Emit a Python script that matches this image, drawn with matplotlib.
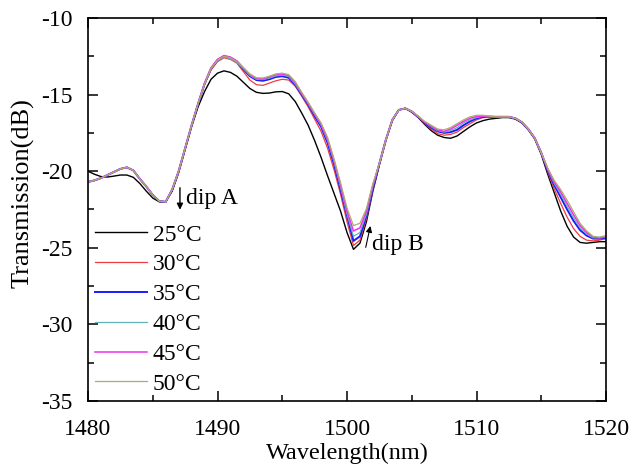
import matplotlib
matplotlib.use("Agg")
import matplotlib.pyplot as plt
from matplotlib.ticker import MultipleLocator

plt.rcParams['font.family'] = ['Liberation Serif', 'DejaVu Serif']
plt.rcParams['axes.unicode_minus'] = False

# wavelength samples (nm), shared by all curves
wl = [1480.0, 1480.5, 1481.0, 1481.5, 1482.0, 1482.5, 1483.0, 1483.5, 1484.0, 1484.5,
      1485.0, 1485.5, 1486.0, 1486.5, 1487.0, 1487.5, 1488.0, 1488.5, 1489.0, 1489.5,
      1490.0, 1490.5, 1491.0, 1491.5, 1492.0, 1492.5, 1493.0, 1493.5, 1494.0, 1494.5,
      1495.0, 1495.5, 1496.0, 1496.5, 1497.0, 1497.5, 1498.0, 1498.5, 1499.0, 1499.5,
      1500.0, 1500.5, 1501.0, 1501.5, 1502.0, 1502.5, 1503.0, 1503.5, 1504.0, 1504.5,
      1505.0, 1505.5, 1506.0, 1506.5, 1507.0, 1507.5, 1508.0, 1508.5, 1509.0, 1509.5,
      1510.0, 1510.5, 1511.0, 1511.5, 1512.0, 1512.5, 1513.0, 1513.5, 1514.0, 1514.5,
      1515.0, 1515.5, 1516.0, 1516.5, 1517.0, 1517.5, 1518.0, 1518.5, 1519.0, 1519.5,
      1520.0]

# transmission (dB) at each temperature
t25 = [-20.0, -20.2, -20.35, -20.38, -20.32, -20.25, -20.25, -20.4, -20.8, -21.3,
       -21.75, -22.0, -22.0, -21.3, -20.1, -18.6, -17.1, -15.8, -14.8, -14.0,
       -13.6, -13.45, -13.55, -13.8, -14.2, -14.6, -14.85, -14.92, -14.9, -14.82,
       -14.8, -14.95, -15.45, -16.2, -17.0, -18.0, -19.1, -20.3, -21.45, -22.6,
       -24.0, -25.1, -24.7, -23.3, -21.3, -19.6, -18.0, -16.7, -16.0, -15.9,
       -16.15, -16.5, -16.95, -17.35, -17.65, -17.8, -17.85, -17.7, -17.4, -17.1,
       -16.85, -16.7, -16.6, -16.55, -16.5, -16.5, -16.6, -16.85, -17.3, -17.9,
       -18.9, -20.2, -21.4, -22.6, -23.6, -24.3, -24.65, -24.7, -24.65, -24.6,
       -24.6]
t30 = [-20.7, -20.6, -20.45, -20.25, -20.05, -19.85, -19.75, -19.95, -20.5, -21.0,
       -21.55, -21.95, -22.0, -21.2, -20.0, -18.5, -17.0, -15.6, -14.35, -13.4,
       -12.85, -12.6, -12.7, -12.95, -13.5, -14.05, -14.35, -14.4, -14.25, -14.1,
       -14.0, -14.05, -14.45, -15.1, -15.8, -16.6, -17.4, -18.5, -19.9, -21.5,
       -23.3, -24.85, -24.5, -23.1, -21.2, -19.5, -17.95, -16.65, -16.0, -15.9,
       -16.1, -16.45, -16.9, -17.25, -17.55, -17.65, -17.6, -17.45, -17.15, -16.9,
       -16.65, -16.5, -16.45, -16.45, -16.45, -16.45, -16.55, -16.8, -17.25, -17.85,
       -18.8, -20.05, -21.15, -22.1, -23.0, -23.75, -24.25, -24.5, -24.55, -24.5,
       -24.4]
t35 = [-20.7, -20.6, -20.45, -20.25, -20.05, -19.85, -19.75, -19.95, -20.5, -21.0,
       -21.55, -21.95, -22.0, -21.2, -20.0, -18.5, -17.0, -15.6, -14.3, -13.3,
       -12.75, -12.5, -12.6, -12.85, -13.35, -13.8, -14.05, -14.1, -14.0, -13.85,
       -13.8, -13.9, -14.35, -15.0, -15.65, -16.4, -17.1, -18.15, -19.55, -21.2,
       -22.9, -24.55, -24.25, -22.9, -21.1, -19.5, -17.95, -16.65, -16.0, -15.9,
       -16.1, -16.45, -16.85, -17.15, -17.4, -17.5, -17.45, -17.3, -17.0, -16.75,
       -16.55, -16.45, -16.45, -16.45, -16.45, -16.45, -16.55, -16.8, -17.25, -17.85,
       -18.8, -19.95, -20.9, -21.7, -22.5, -23.25, -23.85, -24.2, -24.4, -24.4,
       -24.35]
t40 = [-20.7, -20.6, -20.45, -20.25, -20.05, -19.85, -19.75, -19.95, -20.5, -21.0,
       -21.55, -21.95, -22.0, -21.2, -20.0, -18.5, -17.0, -15.6, -14.3, -13.3,
       -12.78, -12.55, -12.65, -12.9, -13.3, -13.75, -14.0, -14.02, -13.92, -13.78,
       -13.72, -13.82, -14.3, -14.95, -15.6, -16.3, -17.0, -18.0, -19.4, -21.05,
       -22.8, -24.25, -24.0, -22.8, -21.0, -19.5, -17.95, -16.65, -16.0, -15.9,
       -16.1, -16.45, -16.8, -17.1, -17.35, -17.45, -17.35, -17.15, -16.85, -16.65,
       -16.5, -16.42, -16.45, -16.45, -16.45, -16.45, -16.55, -16.8, -17.25, -17.85,
       -18.8, -19.9, -20.8, -21.5, -22.3, -23.05, -23.7, -24.1, -24.35, -24.35,
       -24.3]
t45 = [-20.7, -20.6, -20.45, -20.25, -20.05, -19.85, -19.75, -19.95, -20.5, -21.0,
       -21.55, -21.95, -22.0, -21.2, -20.0, -18.5, -17.0, -15.6, -14.25, -13.25,
       -12.7, -12.45, -12.55, -12.8, -13.25, -13.7, -13.95, -13.97, -13.85, -13.7,
       -13.65, -13.75, -14.2, -14.9, -15.55, -16.25, -16.95, -17.9, -19.3, -20.9,
       -22.6, -23.9, -23.7, -22.6, -20.9, -19.5, -17.95, -16.65, -16.0, -15.9,
       -16.1, -16.45, -16.8, -17.05, -17.3, -17.4, -17.25, -17.0, -16.75, -16.55,
       -16.42, -16.4, -16.42, -16.45, -16.45, -16.45, -16.55, -16.8, -17.25, -17.85,
       -18.8, -19.85, -20.7, -21.35, -22.1, -22.85, -23.55, -24.0, -24.3, -24.35,
       -24.3]
t50 = [-20.7, -20.6, -20.45, -20.25, -20.05, -19.85, -19.75, -19.95, -20.5, -21.0,
       -21.55, -21.95, -22.0, -21.2, -20.0, -18.5, -17.0, -15.6, -14.3, -13.3,
       -12.75, -12.5, -12.6, -12.85, -13.25, -13.65, -13.9, -13.92, -13.8, -13.65,
       -13.6, -13.7, -14.15, -14.85, -15.5, -16.2, -16.85, -17.8, -19.2, -20.75,
       -22.4, -23.55, -23.4, -22.45, -20.8, -19.5, -17.95, -16.65, -16.0, -15.9,
       -16.1, -16.4, -16.75, -17.0, -17.25, -17.3, -17.15, -16.9, -16.65, -16.45,
       -16.35, -16.35, -16.4, -16.45, -16.45, -16.45, -16.55, -16.8, -17.25, -17.85,
       -18.8, -19.8, -20.6, -21.2, -21.9, -22.65, -23.4, -23.9, -24.25, -24.3,
       -24.2]

labels = ['25°C', '30°C', '35°C', '40°C', '45°C', '50°C']
series = [t25, t30, t35, t40, t45, t50]
colors = ['#000000', '#f03c3c', '#1a1aff', '#62b4b4', '#f02ef0', '#adad6a']
widths = [1.0, 0.9, 1.4, 0.9, 1.1, 0.9]

fig = plt.figure(figsize=(6.31, 4.69), dpi=100)
ax = fig.add_axes([88 / 631, 68 / 469, 518 / 631, 383 / 469])

for y, lab, c, w in zip(series, labels, colors, widths):
    ax.plot(wl, y, color=c, lw=w, label=lab)

ax.set_xlim(1480, 1520)
ax.set_ylim(-35, -10)
ax.xaxis.set_major_locator(MultipleLocator(10))
ax.xaxis.set_minor_locator(MultipleLocator(5))
ax.yaxis.set_major_locator(MultipleLocator(5))
ax.yaxis.set_minor_locator(MultipleLocator(2.5))
ax.tick_params(which='both', direction='in', top=True, right=True,
               labelsize=17, width=1.1)
ax.tick_params(which='major', length=7)
ax.tick_params(which='minor', length=4)
ax.tick_params(axis='x', pad=13)
ax.tick_params(axis='y', pad=11)
for s in ax.spines.values():
    s.set_linewidth(1.2)

ax.set_xlabel('Wavelength(nm)', fontsize=17.5, labelpad=2)
ax.set_ylabel('Transmission(dB)', fontsize=19)
ax.yaxis.set_label_coords(-0.104, 0.543)

# dip annotations
ax.annotate('', xy=(1487.1, -22.7), xytext=(1487.1, -20.9),
            arrowprops=dict(arrowstyle='-|>', color='black', lw=1.0,
                            mutation_scale=9))
ax.text(1487.6, -21.75, 'dip A', fontsize=17, va='center', ha='left')
ax.annotate('', xy=(1501.85, -23.4), xytext=(1501.4, -25.15),
            arrowprops=dict(arrowstyle='-|>', color='black', lw=0.8,
                            mutation_scale=9))
ax.text(1501.95, -24.8, 'dip B', fontsize=17, va='center', ha='left')

ax.legend(loc='lower left', frameon=False, fontsize=17,
          handlelength=2.2, handletextpad=0.25, labelspacing=0.35,
          borderaxespad=0.0, bbox_to_anchor=(-0.005, -0.008))

fig.savefig('out.png', dpi=100)
